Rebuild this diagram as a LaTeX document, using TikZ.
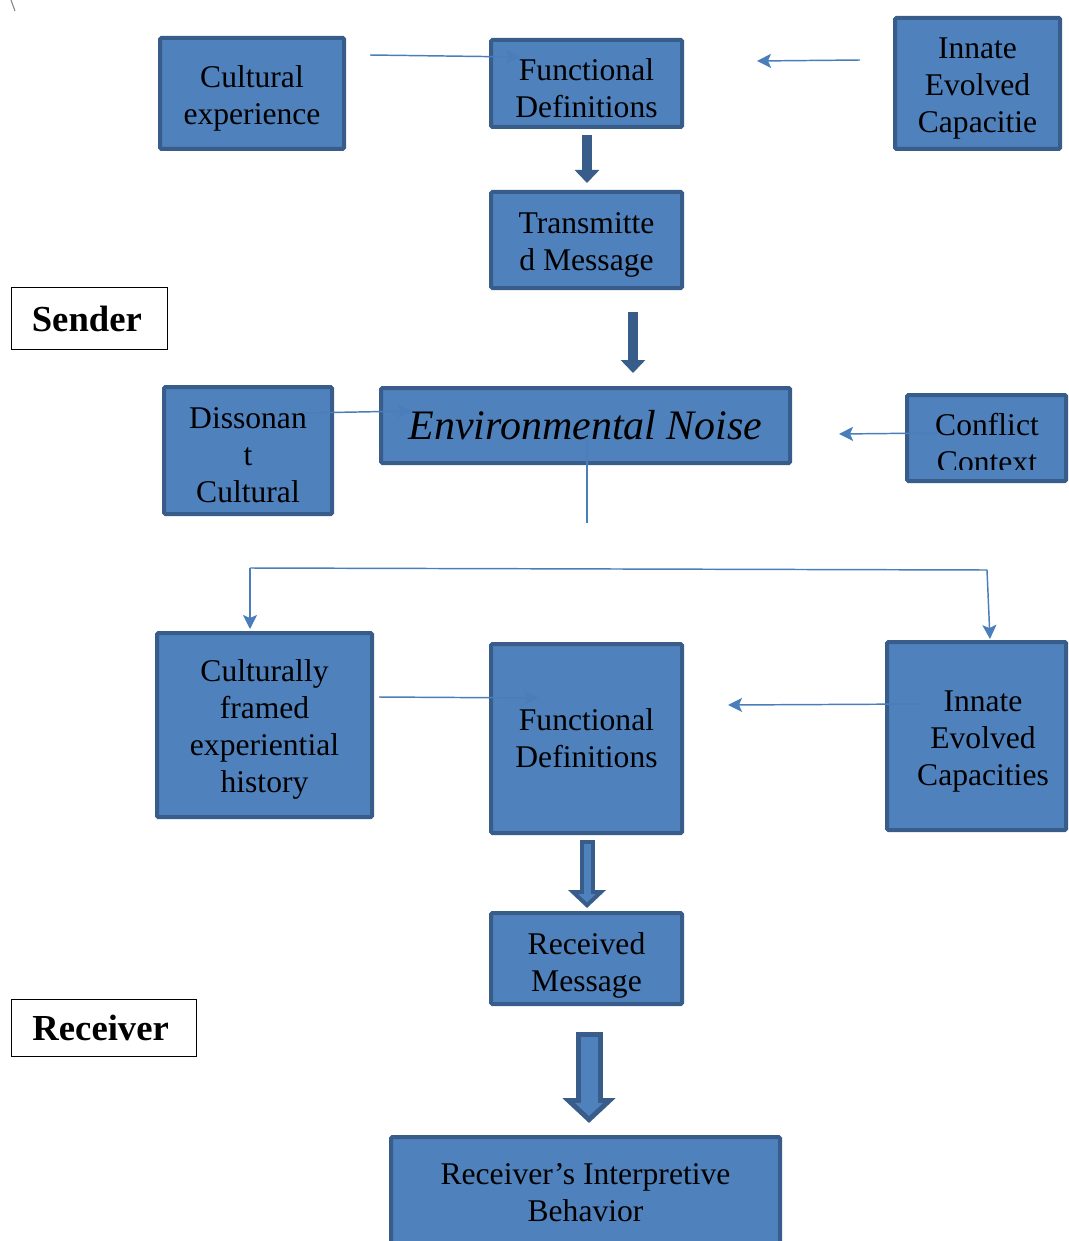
\documentclass[tikz,border=0pt]{standalone}
\usepackage{fontspec}
\setmainfont{Liberation Serif}
\usetikzlibrary{arrows.meta,calc}

\definecolor{boxblue}{HTML}{4F81BD}
\definecolor{boxedge}{HTML}{385D8A}
\definecolor{linkblue}{HTML}{4A7EBB}

% box text sits a little below the middle, as in the word-processor original
\newcommand{\drop}[2][3.75pt]{\raisebox{-#1}[\height][\depth]{\begin{tabular}{@{}c@{}}#2\end{tabular}}}

\tikzset{
  box/.style={rectangle, draw=boxedge, fill=boxblue, line width=3pt, rounded corners=1pt,
    inner sep=0pt, align=center, font=\fontsize{23.7}{27.75}\selectfont},
  boxsize/.style 2 args={minimum width=#1*0.75pt, minimum height=#2*0.75pt},
  tagbox/.style={rectangle, draw=black, fill=white, line width=1.1pt, inner sep=0pt,
    font=\bfseries\fontsize{27.5}{33}\selectfont},
  txt/.style={inner sep=0pt, align=center, font=\fontsize{23.7}{27.75}\selectfont},
  link/.style={draw=linkblue, line width=1.1pt, -{Stealth[length=10.5pt, width=10.5pt, inset=2.25pt]}},
  plainlink/.style={draw=linkblue, line width=1.1pt},
  bigarrow/.style={draw=boxedge, line width=7.5pt, -{Triangle[width=18pt, length=9.75pt]}}
}

\begin{document}
\begin{tikzpicture}[x=0.75pt, y=-0.75pt]
\useasboundingbox (0,0) rectangle (1069,1241);

% stray mark in the corner
\draw[gray, line width=0.75pt] (11,0) -- (15,11);

% sender side
\node[box, boxsize={184}{111}] (cult) at (252,93.5) {\drop{Cultural\\experience}};
\node[box, boxsize={191}{87}] (fd1) at (586.5,83.5) {\drop[6pt]{Functional\\Definitions}};
\node[box, boxsize={165}{131}] (inn1) at (977.5,83.5) {\drop{Innate\\Evolved\\Capacitie}};
\node[box, boxsize={191}{96}] (tm) at (586.5,240) {\drop{Transmitte\\d Message}};
\node[tagbox, boxsize={155.5}{61.5}] (sender) at (89.5,318.5) {\hspace*{-4pt}Sender};

% noise
\node[box, boxsize={168}{127}] (diss) at (248,450.5) {\drop[6pt]{Dissonan\\t\\Cultural}};
\node[box, boxsize={409}{75}, font=\itshape\fontsize{31.5}{36}\selectfont] (env) at (585.5,425.5) {Environmental Noise};
\node[box, boxsize={159}{86}] (conf) at (986.5,438) {};
\begin{scope}
  \clip (905,393) rectangle (1069,469);
  \node[txt] (conftext) at (987,443) {Conflict\\Context};
\end{scope}

% receiver side
\node[box, boxsize={215}{184}] (cfh) at (264.5,725) {\drop{Culturally\\framed\\experiential\\history}};
\node[box, boxsize={191}{189}] (fd2) at (586.5,738.5) {Functional\\Definitions};
\node[box, boxsize={179}{188}] (inn2) at (976.5,736) {\hspace*{9.75pt}\drop{Innate\\Evolved\\Capacities}};
\node[box, boxsize={191}{91}] (rm) at (586.5,958.5) {\drop[5.25pt]{Received\\Message}};
\node[tagbox, boxsize={184.5}{56.5}] (receiver) at (104,1028) {\hspace*{-5pt}Receiver};
\node[box, boxsize={389}{111}] (rib) at (585.5,1192.5) {Receiver’s Interpretive\\Behavior};

% free ends of the thin links
\coordinate (cultout) at (370,55);
\coordinate (fd1inL) at (520,57);
\coordinate (inn1out) at (860,60);
\coordinate (fd1inR) at (757,61);
\coordinate (dissout) at (303,413);
\coordinate (envinL) at (412,411);
\coordinate (confout) at (938,433);
\coordinate (envinR) at (839,434);
\coordinate (envout) at (587,437);
\coordinate (envend) at (587,523);
\coordinate (brL) at (250,568);
\coordinate (brR) at (987,570);
\coordinate (cfhin) at (250,629);
\coordinate (inn2in) at (990,639);
\coordinate (cfhout) at (379,697);
\coordinate (fd2inL) at (538,698);
\coordinate (inn2out) at (920,704);
\coordinate (fd2inR) at (728,705);

% thin links
\draw[link] (cultout) -- (fd1inL);
\draw[link] (inn1out) -- (fd1inR);
\draw[link] (dissout) -- (envinL);
\draw[link] (confout) -- (envinR);
\draw[plainlink] (envout) -- (envend);
\draw[plainlink] (brL) -- (brR);
\draw[link] (brL) -- (cfhin);
\draw[link] (brR) -- (inn2in);
\draw[link] (cfhout) -- (fd2inL);
\draw[link] (inn2out) -- (fd2inR);

% thick arrows
\draw[bigarrow] ($(fd1.south)+(0.5,6)$) -- ($(tm.north)+(0.5,-7)$);
\draw[bigarrow] ($(tm.south)+(46.5,22)$) -- ($(env.north)+(47.5,-13)$);

% hollow arrows
\draw[boxedge, line width=11.25pt, -{Triangle[width=27.75pt, length=13.5pt]}]
  ($(fd2.south)+(0.5,5)$) -- ($(rm.north)+(0.5,-3)$);
\draw[boxblue, line width=5.25pt, -{Triangle[width=12.75pt, length=6.2pt]}]
  ($(fd2.south)+(0.5,9)$) -- ($(rm.north)+(0.5,-8.7)$);
\draw[boxedge, line width=20.25pt, -{Triangle[width=39pt, length=18.75pt]}]
  ($(rm.south)+(2.5,26)$) -- ($(rib.north)+(3.5,-12)$);
\draw[boxblue, line width=12.75pt, -{Triangle[width=20.4pt, length=9.8pt]}]
  ($(rm.south)+(2.5,31)$) -- ($(rib.north)+(3.5,-19)$);
\end{tikzpicture}
\end{document}
